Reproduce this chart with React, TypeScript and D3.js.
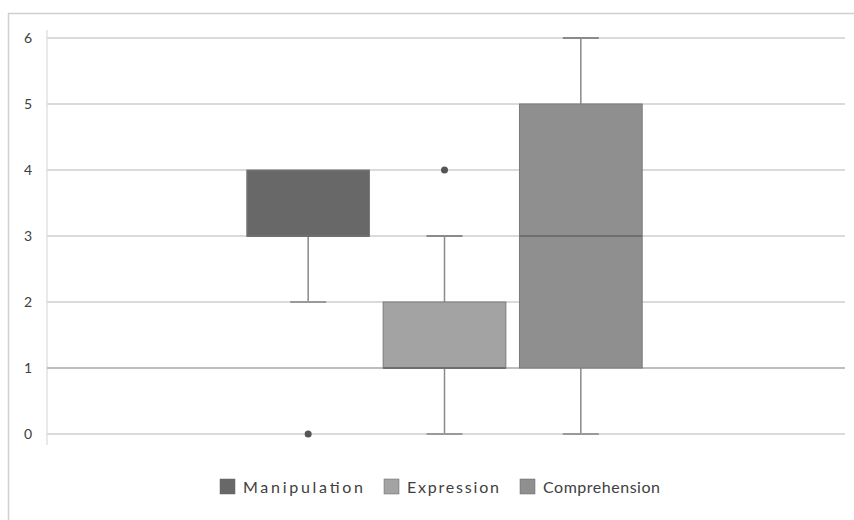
import React from "react";
import * as d3 from "d3";

const categories = ["Manipulation", "Expression", "Comprehension"];
const mins = [2, 0, 0];
const q1s = [3, 1, 1];
const medians = [3, 1, 3];
const q3s = [4, 2, 5];
const maxs = [4, 3, 6];
const outliers = [[0], [4], []];
const yTicks = [0, 1, 2, 3, 4, 5, 6];
const colors = ["#686868", "#a3a3a3", "#8f8f8f"];

export default function App() {
  const W = 854, H = 520;
  const plotL = 47, plotR = 845;
  const y = d3.scaleLinear().domain([0, 6]).range([434, 38]);
  const x = d3.scaleBand().domain(categories).range([240, 649]).paddingInner(0.1).paddingOuter(0.05);
  const bw = x.bandwidth();
  const capW = 36;
  const font = "Lato, 'Open Sans', sans-serif";
  const legendX = [220, 384, 520];
  const legendTextLen = [120, 92, 117];
  return (
    <svg width={W} height={H} style={{ position: "absolute", left: 0, top: 0, background: "#fff" }}>
      <rect x={0} y={0} width={W} height={H} fill="#fff" />
      <line x1={8} x2={W} y1={13.5} y2={13.5} stroke="#d0d0d0" strokeWidth={1.5} />
      <line x1={8.5} x2={8.5} y1={13} y2={H} stroke="#d0d0d0" strokeWidth={1.5} />
      <line x1={plotL} x2={plotL} y1={30} y2={445} stroke="#e2e2e2" strokeWidth={1.5} />
      {yTicks.map((t) => (
        <g key={t}>
          <line x1={plotL} x2={plotR} y1={y(t)} y2={y(t)} stroke={t === 1 ? "#a8a8a8" : "#dadada"} strokeWidth={t === 1 ? 1.5 : 2} />
          <text x={28} y={y(t)} dy="0.35em" textAnchor="middle" fontFamily={font} fontSize={14} fill="#404040">{t}</text>
        </g>
      ))}
      {categories.map((c, i) => {
        const cx = (x(c) as number) + bw / 2;
        return (
          <g key={c}>
            <line x1={cx} x2={cx} y1={y(maxs[i])} y2={y(q3s[i])} stroke="#8a8a8a" strokeWidth={1.5} />
            <line x1={cx} x2={cx} y1={y(q1s[i])} y2={y(mins[i])} stroke="#8a8a8a" strokeWidth={1.5} />
            {maxs[i] > q3s[i] && (
              <line x1={cx - capW / 2} x2={cx + capW / 2} y1={y(maxs[i])} y2={y(maxs[i])} stroke="#8a8a8a" strokeWidth={2} />
            )}
            {mins[i] < q1s[i] && (
              <line x1={cx - capW / 2} x2={cx + capW / 2} y1={y(mins[i])} y2={y(mins[i])} stroke="#9a9a9a" strokeWidth={2} />
            )}
            <rect x={x(c)} y={y(q3s[i])} width={bw} height={y(q1s[i]) - y(q3s[i])} fill={colors[i]} stroke="#7a7a7a" strokeWidth={1} />
            <line x1={x(c)} x2={(x(c) as number) + bw} y1={y(medians[i])} y2={y(medians[i])} stroke="#6e6e6e" strokeWidth={2} />
            {outliers[i].map((o, k) => (
              <circle key={k} cx={cx} cy={y(o)} r={3.5} fill="#555" />
            ))}
          </g>
        );
      })}
      {categories.map((c, i) => (
        <g key={c}>
          <rect x={legendX[i]} y={479} width={15} height={15} fill={colors[i]} stroke="#666" strokeWidth={0.5} />
          <text x={legendX[i] + 23} y={487} dy="0.35em" fontFamily={font} fontSize={16} fill="#404040"
            textLength={legendTextLen[i]} lengthAdjust="spacing">{c}</text>
        </g>
      ))}
    </svg>
  );
}
